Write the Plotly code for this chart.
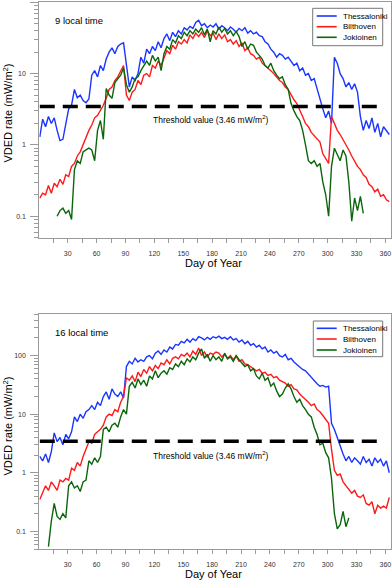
import plotly.graph_objects as go

W, H = 392, 581
STEP = 3

# ---------------- data (VDED rate, mW/m2) ----------------
THRESHOLD = 3.46
threshold_days = [1, 354]

# 9 local time
thess_9_start = 1
thess_9 = [1.3, 2.3, 1.8, 2.5, 2.0, 2.4, 1.6, 1.15, 1.2, 1.9,
           3.2, 3.6, 6.0, 4.6, 5.0, 4.2, 3.9, 4.4, 9.5, 11,
           9.0, 13, 11, 16, 20, 23, 19, 24, 26, 27,
           13, 6.5, 9.0, 8.0, 10, 17, 14, 22, 19, 24,
           21, 28, 23, 31, 36, 29, 38, 33, 40, 36,
           44, 41, 46, 43, 52, 56, 47, 50, 44, 48,
           45, 50, 42, 47, 44, 40, 45, 42, 38, 43,
           40, 44, 37, 40, 36, 38, 34, 33, 28, 26,
           22, 20, 17, 19, 18, 16, 17, 15, 13, 14,
           11, 12, 9.5, 10, 8.0, 8.5, 6.0, 4.5, 3.2, 2.4,
           3.0, 2.0, 17, 14, 10, 8.5, 6.5, 7.5, 6.0, 7.2,
           5.5, 2.5, 1.6, 2.2, 1.7, 2.4, 1.5, 2.0, 1.3, 1.8,
           1.6, 1.4]

bilt_9_start = 1
bilt_9 = [0.18, 0.21, 0.2, 0.27, 0.21, 0.29, 0.26, 0.33, 0.28, 0.38,
          0.36, 0.5, 0.55, 0.7, 0.8, 1.0, 1.3, 1.6, 1.9, 2.4,
          2.6, 3.0, 3.6, 4.5, 6.0, 6.5, 8.0, 9.0, 11, 13,
          5.0, 4.2, 5.5, 6.0, 8.0, 7.0, 9.5, 10, 9.0, 13,
          12, 15, 13, 17, 21, 19, 25, 22, 28, 26,
          30, 27, 35, 31, 37, 33, 38, 32, 40, 34,
          37, 30, 36, 31, 35, 28, 30, 26, 29, 24,
          27, 21, 23, 19, 18, 16, 17, 14, 13, 12,
          11, 10, 9.0, 8.0, 7.5, 6.5, 6.0, 5.0, 4.3, 3.8,
          3.0, 2.5, 2.0, 1.8, 1.5, 1.35, 1.2, 1.1, 0.75, 0.65,
          0.55, 2.5, 2.0, 1.6, 1.4, 1.2, 1.0, 0.85, 0.7, 0.6,
          0.5, 0.45, 0.38, 0.35, 0.28, 0.26, 0.22, 0.24, 0.19, 0.2,
          0.17, 0.16]

joki_9_start = 19
joki_9 = [0.10, 0.12, 0.13, 0.11, 0.12, 0.09,
          0.45, 0.6, 0.55, 0.8, 0.85, 0.9, 0.85, 0.6, 1.6, 2.2,
          1.2, 6.2, 5.0, 4.5, 7.5, 8.5, 9.5, 12, 7.0, 5.5,
          6.5, 8.5, 9.0, 11, 13, 15, 13, 18, 15, 17,
          11, 19, 24, 22, 30, 27, 34, 31, 38, 34,
          40, 36, 42, 38, 44, 35, 42, 28, 40, 36,
          45, 38, 43, 36, 40, 34, 39, 33, 24, 28,
          22, 26, 25, 20, 18, 16, 13, 12, 14, 11,
          9.5, 8.5, 9.0, 7.0, 6.0, 3.8, 3.0, 2.5, 2.2, 1.6,
          1.0, 0.6, 0.55, 0.6, 0.5, 0.55, 0.3, 0.2, 0.1, 0.5,
          0.9, 0.75, 0.6, 0.85, 0.7, 0.3, 0.085, 0.18, 0.12, 0.19,
          0.11]

# 16 local time
thess_16_start = 1
thess_16 = [1.9, 1.6, 2.1, 1.5, 2.3, 4.8, 3.4, 4.0, 3.0, 4.5,
            3.8, 5.0, 9.0, 7.5, 10, 8.5, 11, 12, 14, 12,
            16, 14, 20, 24, 18, 27, 22, 20, 24, 19,
            65, 80, 72, 90, 78, 85, 80, 95, 100, 88,
            110, 120, 105, 125, 115, 140, 130, 155, 150, 175,
            165, 190, 170, 195, 180, 210, 200, 185, 205, 190,
            210, 200, 215, 195, 205, 190, 210, 185, 195, 170,
            185, 160, 175, 150, 160, 140, 150, 130, 140, 115,
            125, 110, 118, 100, 95, 105, 85, 90, 78, 70,
            65, 58, 55, 48, 42, 38, 33, 30, 31, 29,
            30, 7.0, 5.5, 4.0, 2.8, 2.1, 1.6, 1.9, 1.5, 1.8,
            1.6, 1.4, 1.9, 1.5, 1.7, 1.3, 1.8, 1.5, 1.7, 1.3,
            1.6, 1.0]

bilt_16_start = 1
bilt_16 = [0.35, 0.45, 0.6, 0.5, 0.7, 0.6, 0.5, 0.75, 0.7, 0.8,
           0.75, 1.2, 1.1, 1.5, 1.3, 1.9, 2.6, 3.4, 3.2, 4.5,
           5.0, 5.5, 6.5, 9.0, 10, 9.5, 12, 11, 16, 20,
           42, 38, 45, 36, 52, 44, 58, 50, 65, 55,
           68, 60, 75, 70, 85, 72, 90, 95, 88, 105,
           98, 110, 95, 120, 105, 135, 100, 115, 95, 110,
           105, 115, 110, 95, 105, 90, 100, 85, 98, 80,
           85, 72, 70, 65, 60, 55, 58, 50, 52, 46,
           48, 42, 44, 38, 36, 34, 30, 32, 27, 26,
           22, 20, 18, 16, 14, 15, 12, 11, 9.5, 8.0,
           7.0, 2.5, 1.1, 0.9, 0.95, 0.7, 0.6, 0.5, 0.45, 0.5,
           0.4, 0.38, 0.42, 0.3, 0.28, 0.32, 0.2, 0.28, 0.25, 0.27,
           0.25, 0.38]

joki_16_start = 10
joki_16 = [0.055, 0.15, 0.3, 0.18, 0.16, 0.2, 0.17, 0.6, 0.7, 0.55,
           0.6, 0.48, 0.7, 0.75, 1.6, 1.4, 1.8, 1.5, 1.9, 5.5,
           6.0, 5.0, 6.5, 7.0, 6.0, 9.0, 12, 10, 30, 35,
           28, 40, 32, 38, 30, 45, 40, 55, 42, 50,
           55, 48, 62, 58, 72, 65, 80, 70, 88, 78,
           95, 85, 110, 130, 90, 105, 80, 100, 85, 95,
           80, 110, 88, 95, 80, 100, 85, 75, 65, 70,
           55, 60, 45, 40, 50, 38, 42, 30, 34, 25,
           20, 22, 28, 33, 27, 20, 16, 18, 14, 12,
           10, 9.0, 6.0, 4.5, 3.0, 3.2, 2.2, 1.8, 0.8, 0.2,
           0.11, 0.13, 0.22, 0.12, 0.17]

station_names = ["Thessaloniki", "Bilthoven", "Jokioinen"]
panel_labels = ["9 local time", "16 local time"]
x_tick_vals = list(range(30, 361, 30))

# ---------------- styling ----------------
COLORS = ["#1a35ff", "#ff1a1a", "#0b660b"]
FONT = "Arial, Liberation Sans, sans-serif"
AX_COL = "#9a9a9a"


def days_for(start, vals):
    return list(range(start, start + STEP * len(vals), STEP))


def px(x):
    return x / W


def py(y):
    return 1 - y / H


fig = go.Figure()

panels = [
    ("x", "y", [(thess_9_start, thess_9), (bilt_9_start, bilt_9), (joki_9_start, joki_9)]),
    ("x2", "y2", [(thess_16_start, thess_16), (bilt_16_start, bilt_16), (joki_16_start, joki_16)]),
]
for xa, ya, series in panels:
    for (start, vals), name, col in zip(series, station_names, COLORS):
        fig.add_trace(go.Scatter(x=days_for(start, vals), y=vals, mode="lines", name=name,
                                 xaxis=xa, yaxis=ya, showlegend=False,
                                 line=dict(color=col, width=1.4)))
    fig.add_trace(go.Scatter(x=threshold_days, y=[THRESHOLD, THRESHOLD], mode="lines",
                             xaxis=xa, yaxis=ya, showlegend=False,
                             line=dict(color="black", width=3.5, dash="15px,8px")))

XDOM = [px(39.3), px(391.2)]
TOP = (2.3, 237.7)
BOT = (314.3, 549.0)

xcommon = dict(range=[0.5, 366], tickmode="array", tickvals=x_tick_vals,
               ticks="outside", ticklen=4, tickcolor=AX_COL, tickwidth=1,
               showline=True, linecolor=AX_COL, linewidth=1, mirror=True,
               showgrid=False, zeroline=False,
               tickfont=dict(family=FONT, size=7, color="#333"),
               ticklabelstandoff=5,
               minor=dict(dtick=15, tick0=0, ticks="outside", ticklen=4,
                          tickcolor=AX_COL, showgrid=False))
ycommon = dict(type="log", dtick=1, ticks="outside", ticklen=8, tickcolor=AX_COL,
               showline=True, linecolor=AX_COL, linewidth=1, mirror=True,
               showgrid=False, zeroline=False,
               tickfont=dict(family=FONT, size=7, color="#333"),
               ticklabelstandoff=3,
               minor=dict(dtick="D1", ticks="outside", ticklen=4,
                          tickcolor=AX_COL, showgrid=False))

fig.update_layout(
    width=W, height=H, margin=dict(l=0, r=0, t=0, b=0),
    paper_bgcolor="white", plot_bgcolor="white",
    xaxis=dict(domain=XDOM, anchor="y", **xcommon),
    xaxis2=dict(domain=XDOM, anchor="y2", **xcommon),
    yaxis=dict(domain=[py(TOP[1]), py(TOP[0])], anchor="x", range=[-1.301, 2.0], **ycommon),
    yaxis2=dict(domain=[py(BOT[1]), py(BOT[0])], anchor="x2", range=[-1.301, 2.705], **ycommon),
)

ann = []
shapes = []
layouts = [
    dict(label_y=20, title_y=262.7, ytitle_y=113, thr_y=119,
         box=(312.7, 8.3, 382.7, 45.7), rows=[16, 26.7, 37.3]),
    dict(label_y=332.3, title_y=574, ytitle_y=426, thr_y=455,
         box=(313.3, 321.0, 382.7, 356.7), rows=[328.3, 339, 350]),
]
for lab, L in zip(panel_labels, layouts):
    ann.append(dict(text=lab, x=px(53), y=py(L["label_y"]), xref="paper", yref="paper",
                    xanchor="left", yanchor="middle", showarrow=False,
                    font=dict(family=FONT, size=9.5, color="black")))
    ann.append(dict(text="Day of Year", x=px(213), y=py(L["title_y"]), xref="paper", yref="paper",
                    xanchor="center", yanchor="middle", showarrow=False,
                    font=dict(family=FONT, size=11, color="black")))
    ann.append(dict(text="VDED rate (mW/m<sup>2</sup>)", x=px(7.5), y=py(L["ytitle_y"]),
                    xref="paper", yref="paper", textangle=-90,
                    xanchor="center", yanchor="middle", showarrow=False,
                    font=dict(family=FONT, size=11, color="black")))
    ann.append(dict(text="Threshold value (%.2f mW/m<sup>2</sup>)" % THRESHOLD,
                    x=px(211), y=py(L["thr_y"]), xref="paper", yref="paper",
                    xanchor="center", yanchor="middle", showarrow=False,
                    font=dict(family=FONT, size=8.5, color="black")))
    x0, y0, x1, y1 = L["box"]
    shapes.append(dict(type="rect", xref="paper", yref="paper",
                       x0=px(x0), x1=px(x1), y0=py(y1), y1=py(y0),
                       line=dict(color="#777", width=1), fillcolor="white", layer="above"))
    for name, col, ry in zip(station_names, COLORS, L["rows"]):
        shapes.append(dict(type="line", xref="paper", yref="paper",
                           x0=px(316.7), x1=px(336.7), y0=py(ry), y1=py(ry),
                           line=dict(color=col, width=1.6), layer="above"))
        ann.append(dict(text=name, x=px(340.5), y=py(ry), xref="paper", yref="paper",
                        xanchor="left", yanchor="middle", showarrow=False,
                        font=dict(family=FONT, size=8, color="black")))

fig.update_layout(annotations=ann, shapes=shapes)
fig.write_html("out.html", config={"displayModeBar": False},
               post_script="document.body.style.margin='0';document.body.style.overflow='hidden';")
